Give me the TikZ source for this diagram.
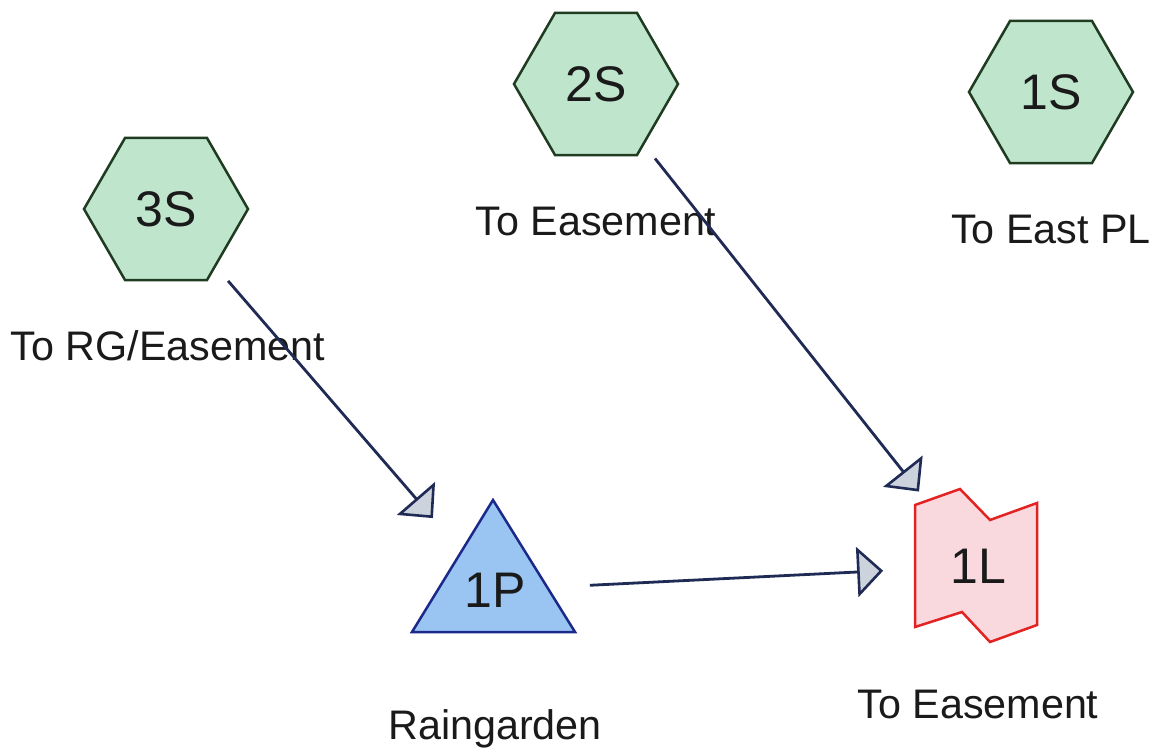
\documentclass[tikz,border=0pt]{standalone}
\usepackage{fontspec}
\setmainfont{Liberation Sans}
\usetikzlibrary{shapes.geometric,arrows.meta}
\definecolor{hexfill}{HTML}{C0E5CD}
\definecolor{hexline}{HTML}{1F3B20}
\definecolor{trifill}{HTML}{9AC4F1}
\definecolor{triline}{HTML}{1B2A8A}
\definecolor{reachfill}{HTML}{F9D9DD}
\definecolor{reachline}{HTML}{E32222}
\definecolor{linkcol}{HTML}{1F2A55}
\definecolor{tipfill}{HTML}{CDD3DC}
\definecolor{txt}{HTML}{1A1A1A}
\tikzset{
  hexnode/.style={regular polygon, regular polygon sides=6, minimum size=164pt, inner sep=0pt,
    draw=hexline, fill=hexfill, line width=2.5pt, text=txt, font=\fontsize{50}{58}\selectfont},
  idtext/.style={inner sep=0pt, text=txt, font=\fontsize{50}{58}\selectfont},
  lbl/.style={anchor=base, inner sep=0pt, text=txt, font=\fontsize{41.3}{50}\selectfont},
  link/.style={draw=linkcol, line width=2.8pt, shorten <=95pt, shorten >=95pt,
    -{Triangle[length=26pt, width=50pt, fill=tipfill, line width=2.6pt]}},
}
\begin{document}
\begin{tikzpicture}[x=1pt, y=-1pt]
\useasboundingbox (0,0) rectangle (1160,752);
\fill[white] (0,0) rectangle (1160,752);

% hexagons
\node[hexnode] (n3S) at (166,209) {3S};
\node[hexnode] (n2S) at (596,84) {2S};
\node[hexnode] (n1S) at (1051,92) {1S};

% pond triangle
\draw[draw=triline, fill=trifill, line width=2.5pt, line join=miter]
  (493,500) -- (575,632) -- (412,632) -- cycle;
\node[idtext] (n1P) at (495,590) {1P};

% link shape
\draw[draw=reachline, fill=reachfill, line width=2.5pt, line join=miter]
  (915,505) -- (960,489) -- (990,520) -- (1037,503) -- (1037,625)
  -- (990,642) -- (962,612) -- (915,627) -- cycle;
\node[idtext] (n1L) at (978,566) {1L};

% labels
\node[lbl] (l3S) at (168,360) {To RG/Easement};
\node[lbl] (l2S) at (596,235) {To Easement};
\node[lbl] (l1S) at (1051,243) {To East PL};
\node[lbl] (l1P) at (495,739) {Raingarden};
\node[lbl] (l1L) at (978,718) {To Easement};

% connectors
\draw[link] (n3S.center) -- (n1P.center);
\draw[link] (n2S.center) -- (n1L.center);
\draw[link] (n1P.center) -- (n1L.center);
\end{tikzpicture}
\end{document}
